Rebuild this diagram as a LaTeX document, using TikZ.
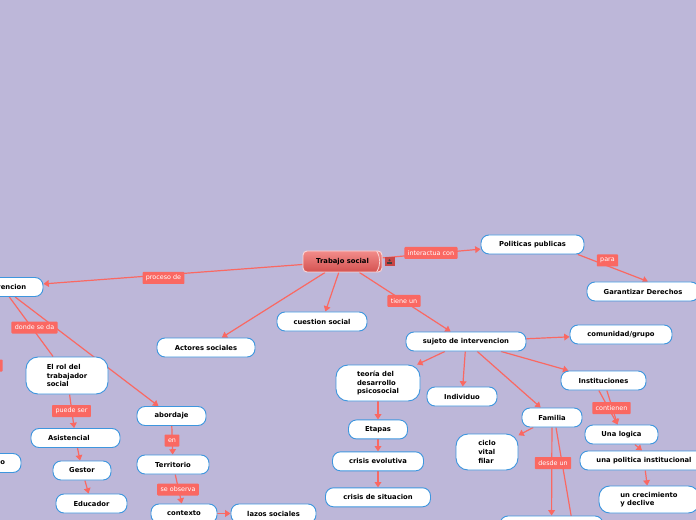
\documentclass[tikz,border=0pt]{standalone}
\usepackage{fontspec}
\setmainfont{DejaVu Sans}
\usetikzlibrary{arrows.meta,positioning,calc,backgrounds}
\definecolor{lavender}{RGB}{189,183,217}
\definecolor{salmon}{RGB}{250,104,98}
\definecolor{edgeblue}{RGB}{62,150,222}
\definecolor{hubtop}{RGB}{242,140,138}
\definecolor{hubbottom}{RGB}{212,82,80}
\definecolor{hubedge}{RGB}{250,215,215}
\definecolor{icondark}{RGB}{200,70,70}
\tikzset{
  topicbox/.style={draw=edgeblue, fill=white, rounded corners=6pt, line width=0.7pt,
    minimum height=14.25pt, inner sep=1pt, align=center,
    font=\bfseries\fontsize{5.1}{6.5}\selectfont},
  tallbox/.style={topicbox, rounded corners=9pt, minimum height=27pt, align=left},
  linkbox/.style={fill=salmon, text=white, rounded corners=0.6pt, inner xsep=2.5pt,
    inner ysep=0pt, minimum height=9pt, font=\fontsize{4.8}{5.8}\selectfont},
  hubbox/.style={top color=hubtop, bottom color=hubbottom, draw=hubedge, line width=0.7pt,
    rounded corners=3pt, minimum height=15.75pt, inner sep=1pt,
    font=\bfseries\fontsize{5.1}{6.5}\selectfont,
    path picture={\draw[hubedge, line width=0.6pt]
      ([xshift=-4pt]path picture bounding box.north east) to[out=-60,in=60]
      ([xshift=-4pt]path picture bounding box.south east);}},
  iconbox/.style={fill=icondark, minimum width=7.5pt, minimum height=6.75pt, inner sep=0pt,
    path picture={\fill[black!75] ($(path picture bounding box.center)+(-1.6pt,-1.8pt)$)
      rectangle +(3.2pt,1.2pt);
      \fill[black!75] ($(path picture bounding box.center)+(0pt,0.9pt)$) circle (0.9pt);}},
  flow/.style={-{Triangle[length=4pt,width=5pt]}, draw=salmon, line width=0.9pt},
  plainflow/.style={draw=salmon, line width=0.9pt}
}

\begin{document}
\begin{tikzpicture}[x=0.75pt, y=-0.75pt]
\useasboundingbox (0,0) rectangle (696,520);
\clip (0,0) rectangle (696,520);

% centre and first ring
\node[hubbox, minimum width=59.25pt] (trabajo) at (342.5,261.5) {Trabajo social};
\node[iconbox] (icon) at (389.5,261.5) {};
\node[topicbox, minimum width=77.25pt] (politicas) at (532.5,244.5) {Politicas publicas};
\node[topicbox, minimum width=84pt] (garantizar) at (643,291.5) {Garantizar Derechos};
\node[topicbox, minimum width=61.5pt] (intervencion) at (2,287) {Intervencion};
\node[topicbox, minimum width=67.5pt] (cuestion) at (322,321.5) {cuestion social};
\node[topicbox, minimum width=73.5pt] (actores) at (206,347.5) {Actores sociales};
\node[topicbox, minimum width=90pt] (sujeto) at (466,341.5) {sujeto de intervencion};

% sujeto de intervencion
\node[topicbox, minimum width=76.5pt] (comunidad) at (621,334.5) {comunidad/grupo};
\node[topicbox, minimum width=63.75pt] (instituciones) at (603.5,380.5) {Instituciones};
\node[topicbox, minimum width=52.5pt] (individuo) at (462,396.5) {Individuo};
\node[tallbox, minimum width=63pt] (teoria) at (378,383) {teoría del\\desarrollo\\psicosocial};
\node[topicbox, minimum width=44.25pt, below=13.5pt of teoria] (etapas) {Etapas};
\node[topicbox, minimum width=68.25pt, below=9pt of etapas] (crisisev) {crisis evolutiva};
\node[topicbox, minimum width=78.75pt, below=12pt of crisisev] (crisissit) {crisis de situacion};
\node[topicbox, minimum width=45pt] (familia) at (552,417.5) {Familia};
\node[tallbox, minimum width=46.5pt] (ciclo) at (487,452) {ciclo\\vital\\filar};
\node[topicbox, minimum width=77.25pt, minimum height=21pt] (bajofamilia) at (551.5,530) {};
\coordinate (famlow) at (589,620);
\node[topicbox, minimum width=54.75pt] (logica) at (621.5,434.5) {Una logica};
\node[topicbox, minimum width=96pt] (politicainst) at (644,460.5) {una politica institucional};
\node[tallbox, minimum width=75pt, minimum height=20.25pt, rounded corners=8pt] (crecimiento) at (649,499.5) {un crecimiento\\y declive};

% Intervencion
\node[tallbox, minimum width=61.5pt, minimum height=27.75pt] (rol) at (67,375.5) {El rol del\\trabajador\\social};
\node[topicbox, text width=41.25pt, align=left, inner xsep=12.75pt] (asistencial) at (75.5,438) {Asistencial};
\node[topicbox, minimum width=43.5pt] (gestor) at (82,470.5) {Gestor};
\node[topicbox, minimum width=53.25pt] (educador) at (91.5,503.5) {Educador};
\node[topicbox, minimum width=51.75pt] (abordaje) at (171.5,416) {abordaje};
\node[topicbox, minimum width=54pt] (territorio) at (173,464.5) {Territorio};
\node[topicbox, minimum width=49.5pt] (contexto) at (184,513.5) {contexto};
\node[topicbox, minimum width=63.75pt] (lazos) at (273.5,513.5) {lazos sociales};
\node[topicbox, text width=37.5pt, align=right, inner xsep=12pt] (izquierda) at (-20,463) {o};

% connector labels
\node[linkbox] (lproceso) at (163.5,278) {proceso de};
\node[linkbox] (linteractua) at (431,253) {interactua con};
\node[linkbox] (lpara) at (607.5,260.5) {para};
\node[linkbox] (ltiene) at (404,301) {tiene un};
\node[linkbox] (ldonde) at (34.5,327.5) {donde se da};
\node[linkbox] (lpuede) at (71.5,411) {puede ser};
\node[linkbox] (len) at (172,440.5) {en};
\node[linkbox] (lobserva) at (178,489.5) {se observa};
\node[linkbox] (lcontienen) at (611.5,408) {contienen};
\node[linkbox] (ldesde) at (553,463) {desde un};
\node[linkbox, minimum width=25pt] (lizquierda) at (-14,365.5) {};

\begin{scope}[on background layer]
\fill[lavender] (0,0) rectangle (696,520);
\draw[flow] (trabajo) -- (intervencion);
\draw[flow] (trabajo) -- (politicas);
\draw[flow] ([xshift=-5pt]politicas.south east) -- ([xshift=3.75pt]garantizar.north);
\draw[flow] (trabajo) -- (actores);
\draw[flow] (trabajo) -- (cuestion);
\draw[flow] (trabajo) -- (sujeto);
\draw[flow] (sujeto) -- (comunidad);
\draw[flow] (sujeto) -- (instituciones);
\draw[flow] (sujeto) -- (individuo);
\draw[flow] (sujeto) -- (teoria);
\draw[flow] (sujeto) -- (familia);
\draw[flow] (teoria) -- (etapas);
\draw[flow] (etapas) -- (crisisev);
\draw[flow] (crisisev) -- (crisissit);
\draw[flow] (familia) -- (ciclo);
\draw[flow] (familia) -- (bajofamilia);
\draw[plainflow] ([xshift=3pt]familia.south) -- (famlow);
\draw[flow] ([xshift=-3.5pt]instituciones.south) -- ([xshift=-3pt]logica.north);
\draw[flow] ([xshift=2.5pt]instituciones.south) -- ([xshift=-3pt]logica.north);
\draw[flow] ([xshift=10pt]logica.south) -- ([xshift=-1.5pt]politicainst.north);
\draw[flow] (politicainst) -- (crecimiento);
\draw[plainflow] (intervencion) -- (rol);
\draw[flow] (intervencion) -- (abordaje);
\draw[flow] (rol) -- (asistencial);
\draw[flow] (asistencial) -- (gestor);
\draw[flow] (gestor) -- (educador);
\draw[flow] (abordaje) -- (territorio);
\draw[flow] (territorio) -- (contexto);
\draw[flow] (contexto) -- (lazos);
\end{scope}
\end{tikzpicture}
\end{document}
